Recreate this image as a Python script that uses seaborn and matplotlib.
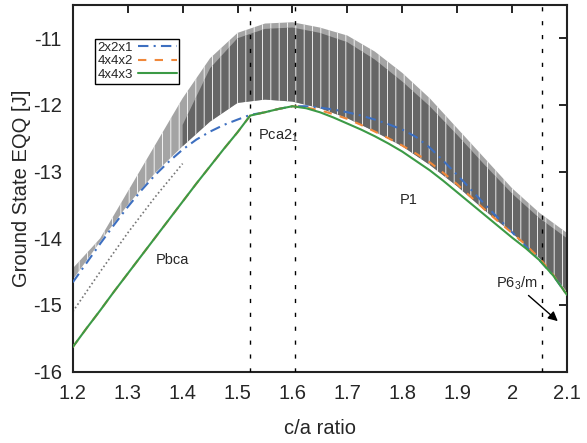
import matplotlib
matplotlib.use("Agg")
import matplotlib.pyplot as plt
import seaborn as sns

sns.set_style("white")
plt.rcParams['font.family'] = ['Liberation Sans', 'DejaVu Sans']
plt.rcParams['mathtext.default'] = 'regular'
plt.rcParams['axes.unicode_minus'] = False
plt.rcParams['hatch.linewidth'] = 0.6

# minimum-energy curves for the three supercells
ca_curve = [1.2, 1.225, 1.25, 1.275, 1.3, 1.325, 1.35, 1.375, 1.4, 1.425, 1.45, 1.475,
            1.5, 1.523, 1.55, 1.575, 1.6, 1.625, 1.65, 1.675, 1.7, 1.725, 1.75, 1.775,
            1.8, 1.825, 1.85, 1.875, 1.9, 1.925, 1.95, 1.975, 2.0, 2.025, 2.05, 2.075, 2.1]
e_2x2x1 = [-14.66, -14.37, -14.08, -13.80, -13.53, -13.28, -13.05, -12.85, -12.67, -12.52,
           -12.40, -12.30, -12.22, -12.15, -12.11, -12.06, -12.02, -12.02, -12.04, -12.07,
           -12.11, -12.16, -12.22, -12.29, -12.37, -12.48, -12.64, -12.84, -13.05, -13.27,
           -13.49, -13.70, -13.91, -14.12, -14.33, -14.56, -14.85]
e_4x4x2 = [-15.63, -15.35, -15.08, -14.80, -14.53, -14.26, -13.99, -13.72, -13.45, -13.18,
           -12.92, -12.66, -12.41, -12.16, -12.11, -12.06, -12.02, -12.04, -12.08, -12.14,
           -12.21, -12.30, -12.40, -12.50, -12.61, -12.73, -12.86, -13.02, -13.19, -13.38,
           -13.57, -13.75, -13.92, -14.10, -14.30, -14.55, -14.85]
e_4x4x3 = [-15.63, -15.35, -15.08, -14.80, -14.53, -14.26, -13.99, -13.72, -13.45, -13.18,
           -12.92, -12.66, -12.41, -12.16, -12.11, -12.06, -12.02, -12.05, -12.11, -12.19,
           -12.28, -12.37, -12.47, -12.58, -12.70, -12.84, -12.98, -13.14, -13.31, -13.48,
           -13.65, -13.82, -13.99, -14.15, -14.33, -14.56, -14.85]

# envelope of the cloud of all configurations
ca_cloud = [1.2, 1.25, 1.3, 1.35, 1.4, 1.45, 1.5, 1.55, 1.6, 1.65,
            1.7, 1.75, 1.8, 1.85, 1.9, 1.95, 2.0, 2.05, 2.1]
cloud_top = [-14.45, -14.0, -13.3, -12.6, -11.9, -11.3, -10.92, -10.78, -10.76, -10.84,
             -10.96, -11.2, -11.52, -11.9, -12.35, -12.8, -13.25, -13.62, -13.92]
cloud_bottom = [-14.62, -14.05, -13.5, -13.02, -12.62, -12.25, -11.97, -11.92, -11.95, -12.05,
                -12.2, -12.4, -12.62, -12.9, -13.22, -13.58, -13.92, -14.3, -14.8]
ca_core = [1.4, 1.45, 1.5, 1.55, 1.6, 1.65, 1.7, 1.75, 1.8, 1.85, 1.9, 1.95, 2.0, 2.05, 2.1]
core_top = [-12.3, -11.45, -11.0, -10.86, -10.84, -10.92, -11.06, -11.32, -11.65, -12.02,
            -12.45, -12.9, -13.33, -13.7, -14.0]
core_bottom = [-12.62, -12.25, -11.97, -11.92, -11.95, -12.05, -12.2, -12.4, -12.62, -12.9,
               -13.22, -13.58, -13.92, -14.3, -14.8]
# stray configurations below the 2x2x1 curve
ca_strand = [1.2, 1.25, 1.3, 1.35, 1.4]
e_strand = [-15.1, -14.5, -13.92, -13.38, -12.88]

phase_bounds = [1.523, 1.605, 2.055]

fig, ax = plt.subplots(figsize=(5.87, 4.43), dpi=100)
fig.subplots_adjust(left=0.124, right=0.966, top=0.989, bottom=0.161)

ax.fill_between(ca_cloud, cloud_bottom, cloud_top, facecolor='#a4a4a4',
                edgecolor='white', hatch='||', linewidth=0, zorder=1)
ax.fill_between(ca_core, core_bottom, core_top, facecolor='#666666',
                edgecolor='white', hatch='||', linewidth=0, zorder=1.5)
sns.lineplot(x=ca_strand, y=e_strand, ax=ax, color='#777777', lw=1.2,
             linestyle=(0, (1, 1.5)), zorder=2)

for xb in phase_bounds:
    ax.axvline(xb, color='black', lw=1, linestyle=(0, (3, 7)), zorder=3)

sns.lineplot(x=ca_curve, y=e_2x2x1, ax=ax, color='#3d6fc0', lw=1.5,
             linestyle=(0, (5, 2.5, 1, 2.5)), label='2x2x1', zorder=4)
sns.lineplot(x=ca_curve, y=e_4x4x2, ax=ax, color='#f0883a', lw=1.5,
             linestyle=(0, (4, 4)), label='4x4x2', zorder=5)
sns.lineplot(x=ca_curve, y=e_4x4x3, ax=ax, color='#3c9a46', lw=1.5,
             label='4x4x3', zorder=6)

ax.set_xlim(1.2, 2.1)
ax.set_ylim(-16, -10.5)
ax.set_xticks([1.2, 1.3, 1.4, 1.5, 1.6, 1.7, 1.8, 1.9, 2.0, 2.1])
ax.set_xticklabels(['1.2', '1.3', '1.4', '1.5', '1.6', '1.7', '1.8', '1.9', '2', '2.1'])
ax.set_yticks([-16, -15, -14, -13, -12, -11])
ax.tick_params(direction='in', length=6, width=1.2, labelsize=14.5,
               top=True, right=True, color='black')
ax.tick_params(axis='x', pad=9)
ax.tick_params(axis='y', pad=8)
for sp in ax.spines.values():
    sp.set_color('#222222')
    sp.set_linewidth(1.5)

ax.set_xlabel('c/a ratio', fontsize=14.5)
ax.set_ylabel('Ground State EQQ [J]', fontsize=14.5)
ax.xaxis.set_label_coords(0.5, -0.13)
ax.yaxis.set_label_coords(-0.085, 0.5)

ax.text(1.381, -14.33, 'Pbca', fontsize=10.5, ha='center', va='center')
ax.text(1.537, -12.47, 'Pca2$_1$', fontsize=10.5, ha='left', va='center')
ax.text(1.812, -13.43, 'P1', fontsize=10.5, ha='center', va='center')
ax.text(2.008, -14.68, 'P6$_3$/m', fontsize=10.5, ha='center', va='center')
ax.annotate('', xy=(2.087, -15.27), xytext=(2.026, -14.83),
            arrowprops=dict(arrowstyle='-|>', color='black', lw=1, mutation_scale=14))

leg = ax.legend(loc='upper left', bbox_to_anchor=(0.045, 0.907), fontsize=9.5,
                markerfirst=False, handlelength=2.9, fancybox=False, framealpha=1,
                borderpad=0.2, labelspacing=0.1, handletextpad=0.4, borderaxespad=0)
leg.get_frame().set_edgecolor('black')
leg.get_frame().set_linewidth(1)

plt.savefig('out.png', dpi=100)
